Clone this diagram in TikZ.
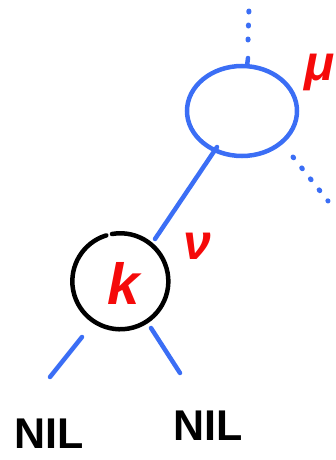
\documentclass[tikz,border=0pt]{standalone}
\usepackage{fontspec}
\setmainfont{Liberation Sans}
\usetikzlibrary{shapes.geometric}
\definecolor{penblue}{HTML}{3B6EF5}
\definecolor{penred}{HTML}{F50A0A}
\begin{document}
\begin{tikzpicture}[x=1pt,y=-1pt,
  bluestroke/.style={draw=penblue,line width=4.5pt,line cap=round},
  blackstroke/.style={draw=black,line width=4.5pt,line cap=round},
  dotline/.style={draw=penblue,line width=5pt,line cap=round,dash pattern=on 1pt off 13pt},
  redlabel/.style={text=penred,inner sep=0pt,font=\bfseries\itshape\fontsize{58}{58}\selectfont},
  nil/.style={text=black,font=\bfseries\fontsize{43}{43}\selectfont,inner sep=0pt}]
\useasboundingbox (0,0) rectangle (336,460);
% mu node
\node[ellipse,minimum width=110pt,minimum height=90pt,inner sep=0pt] (mu) at (242,111) {};
\draw[bluestroke] (mu.center) ellipse [x radius=55pt,y radius=45pt];
\coordinate (mutop) at (247,66);
\coordinate (upend) at (249,8);
\draw[bluestroke] (mutop) -- (248,58);
\draw[dotline] (248,40) -- (upend);
\coordinate (mubr) at (293,157);
\coordinate (brend) at (328,201);
\draw[dotline] (mubr) -- (brend);
% k node
\node[circle,minimum size=96pt,inner sep=0pt] (k) at (120,281) {};
\draw[blackstroke] (112,234) arc[start angle=100,end angle=-253,radius=48pt];
\node[redlabel] (klab) at (124,283) {k};
\node[redlabel,font=\bfseries\itshape\fontsize{50}{50}\selectfont] (nulab) at (197,246) {ν};
\node[redlabel,font=\bfseries\itshape\fontsize{50}{50}\selectfont,anchor=west] (mulab) at (304,72) {μ};
% edge mu -> k
\coordinate (muedge) at (217,147);
\coordinate (kedge) at (155,239);
\draw[bluestroke] (muedge) -- (kedge);
% children
\coordinate (kl) at (82,337);
\coordinate (kll) at (50,377);
\coordinate (kr) at (151,328);
\coordinate (krr) at (180,373);
\draw[bluestroke] (kl) -- (kll);
\draw[bluestroke] (kr) -- (krr);
\node[nil] (nil1) at (49,434) {NIL};
\node[nil] (nil2) at (208,426) {NIL};
\end{tikzpicture}
\end{document}
